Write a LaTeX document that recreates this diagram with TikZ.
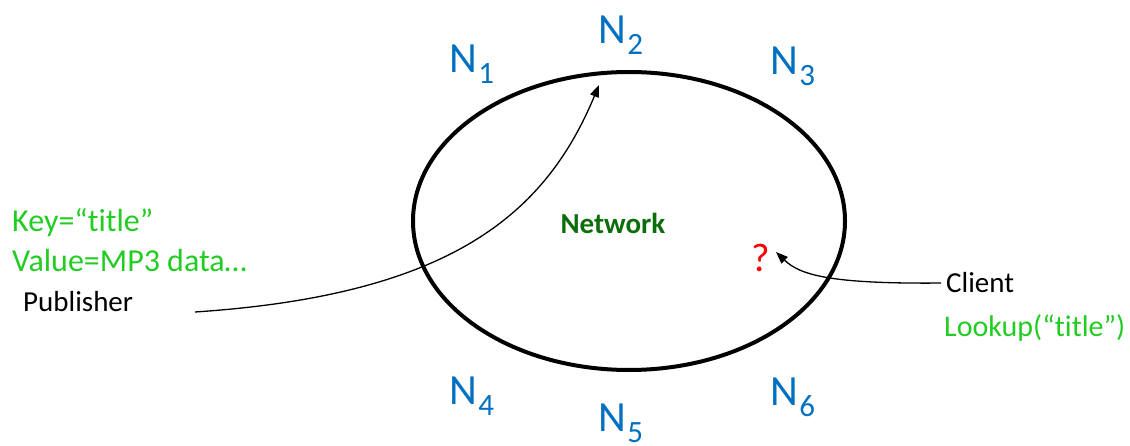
\documentclass[tikz,border=0pt]{standalone}
\usepackage{fontspec}
\setmainfont{Carlito}[Ligatures={NoCommon,NoContextual}]
\usepackage{xcolor}
\usetikzlibrary{arrows.meta, positioning, shapes.geometric}
\definecolor{bleunoeud}{HTML}{0070C0}
\definecolor{vertclair}{HTML}{22CC22}
\definecolor{vertfonce}{HTML}{0B6E0B}
\definecolor{rouge}{HTML}{FF0000}
\newcommand{\noeudlab}[1]{N\kern1.5pt\raisebox{-11pt}{\fontsize{31}{31}\selectfont #1}}
\tikzset{
  anneau/.style={ellipse, draw=black, line width=4pt, minimum width=432pt,
    minimum height=298pt, inner sep=0pt},
  pairlabel/.style={anchor=base west, inner sep=0pt, text=bleunoeud,
    font=\fontsize{43}{43}\selectfont},
  datalabel/.style={anchor=base west, inner sep=0pt, text=vertclair,
    font=\fontsize{32}{40}\selectfont},
  rolelabel/.style={anchor=base west, inner sep=0pt, text=black,
    font=\fontsize{29}{34}\selectfont},
  fleche/.style={-{Triangle[length=12pt, width=9pt]}, line width=1.3pt, color=black},
}

\begin{document}
\begin{tikzpicture}[x=1pt, y=-1pt]
    \useasboundingbox (0,0) rectangle (1130,446);
    \node[anneau] (ring) at (629,221) {};
    \node[font=\fontsize{29}{29}\selectfont\bfseries, text=vertfonce] (net) at (613,223) {Network};

    % nodes on the ring
    \node[pairlabel] (n1) at (449,73) {\noeudlab{1}};
    \node[pairlabel] (n2) at (598,44) {\noeudlab{2}};
    \node[pairlabel] (n3) at (770,75) {\noeudlab{3}};
    \node[pairlabel] (n4) at (449,404) {\noeudlab{4}};
    \node[pairlabel] (n5) at (598,431) {\noeudlab{5}};
    \node[pairlabel] (n6) at (770,405) {\noeudlab{6}};

    % publisher side
    \node[datalabel] (key) at (12,232) {Key=“title”};
    \node[datalabel] (value) at (12,272) {Value=MP3 data…};
    \node[rolelabel] (pub) at (23,312) {Publisher};
    \coordinate (pubtail) at (195,312);
    \coordinate (pubhead) at (599,85);
    \draw[fleche] (pubtail) .. controls (450,295) and (545,215) .. (pubhead);

    % client side
    \node[anchor=base west, inner sep=0pt, text=rouge, font=\fontsize{40}{40}\selectfont] (query) at (751,272) {?};
    \node[rolelabel] (client) at (946,293) {Client};
    \node[datalabel, font=\fontsize{30}{36}\selectfont] (lookup) at (944,337) {Lookup(“title”)};
    \coordinate (lookhead) at (776,252);
    \draw[fleche] ([xshift=-5pt]client.west) .. controls (830,284) and (800,275) .. (lookhead);
\end{tikzpicture}
\end{document}
